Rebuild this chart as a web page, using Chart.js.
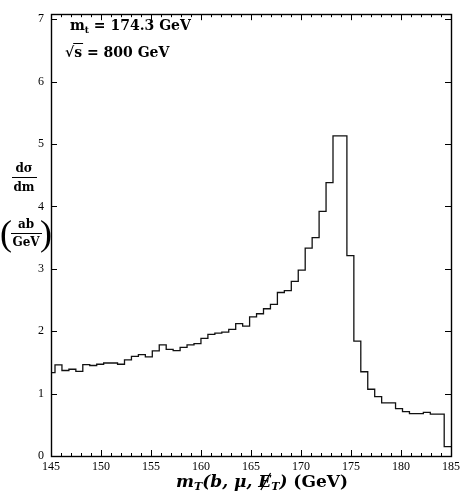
<!DOCTYPE html>
<html>
<head>
<meta charset="utf-8">
<script src="https://cdn.jsdelivr.net/npm/chart.js@4.4.1/dist/chart.umd.min.js"></script>
<style>
    html, body { margin: 0; padding: 0; background: #fff; }
    #wrap { width: 460px; height: 496px; position: relative; }
</style>
</head>
<body>
<div id="wrap"><canvas id="massChart"></canvas></div>
<script>
// Histogram binning (GeV): a short first bin from 145, then equal-width bins
const xMin = 145;
const xMax = 185;
const firstFullEdge = 145.4;
const binWidth = 0.695;

// d sigma / dm in ab/GeV, one value per bin, left to right
const binValues = [
    1.335, 1.46, 1.37, 1.39, 1.355, 1.465, 1.45, 1.47, 1.49, 1.49,
    1.47, 1.54, 1.595, 1.625, 1.59, 1.685, 1.78, 1.71, 1.69, 1.74,
    1.78, 1.80, 1.885, 1.95, 1.97, 1.985, 2.03, 2.12, 2.08, 2.23,
    2.28, 2.36, 2.43, 2.62, 2.65, 2.80, 2.98, 3.33, 3.50, 3.92,
    4.38, 5.13, 5.13, 3.21, 1.84, 1.35, 1.07, 0.95, 0.85, 0.85,
    0.76, 0.71, 0.68, 0.68, 0.70, 0.67, 0.67, 0.15
];

const xTickLabels = [145, 150, 155, 160, 165, 170, 175, 180, 185];
const yTickLabels = [0, 1, 2, 3, 4, 5, 6, 7];
const yMax = 7.08;

// left edge of each bin, then the closing point at the right of the axis
const binEdges = binValues.map((v, i) => i === 0 ? xMin : firstFullEdge + binWidth * (i - 1));
const stepPoints = binValues.map((v, i) => ({ x: binEdges[i], y: v }));
stepPoints.push({ x: xMax, y: binValues[binValues.length - 1] });

const serif = '"Liberation Serif", "DejaVu Serif", serif';
const wide = '"DejaVu Serif", serif';

// Frame with inward ticks on all four sides
const framePlugin = {
    id: 'frame',
    afterDatasetsDraw(chart) {
        const { ctx, chartArea: a, scales } = chart;
        ctx.save();
        ctx.strokeStyle = '#000';
        ctx.lineWidth = 1;
        ctx.beginPath();
        for (let v = xMin; v <= xMax; v++) {
            const px = Math.round(scales.x.getPixelForValue(v)) + 0.5;
            const len = v % 5 === 0 ? 6 : 3;
            ctx.moveTo(px, a.bottom); ctx.lineTo(px, a.bottom - len);
            ctx.moveTo(px, a.top); ctx.lineTo(px, a.top + len);
        }
        yTickLabels.forEach(v => {
            const py = Math.round(scales.y.getPixelForValue(v)) + 0.5;
            ctx.moveTo(a.left, py); ctx.lineTo(a.left + 6, py);
            ctx.moveTo(a.right, py); ctx.lineTo(a.right - 6, py);
        });
        ctx.stroke();
        ctx.lineWidth = 1.4;
        ctx.strokeRect(Math.round(a.left) + 0.5, Math.round(a.top) + 0.5,
            Math.round(a.right - a.left), Math.round(a.bottom - a.top));
        ctx.restore();
    }
};

// Annotations and axis titles
const labelsPlugin = {
    id: 'texts',
    afterDraw(chart) {
        const ctx = chart.ctx;
        ctx.save();
        ctx.fillStyle = '#000';
        ctx.strokeStyle = '#000';
        ctx.textBaseline = 'alphabetic';

        // m_t = 174.3 GeV
        ctx.textAlign = 'left';
        ctx.font = 'bold 14px ' + wide;
        let x = 70;
        ctx.fillText('m', x, 30);
        x += ctx.measureText('m').width;
        ctx.font = 'bold 9px ' + wide;
        ctx.fillText('t', x, 33);
        x += ctx.measureText('t').width;
        ctx.font = 'bold 14px ' + wide;
        ctx.fillText(' = 174.3 GeV', x, 30);

        // sqrt(s) = 800 GeV
        ctx.font = 'bold 14px ' + wide;
        ctx.fillText('\u221A', 65, 57);
        const sx = 65 + ctx.measureText('\u221A').width;
        ctx.fillText('s = 800 GeV', sx, 57);
        ctx.lineWidth = 1;
        ctx.beginPath();
        ctx.moveTo(sx - 1, 43.5);
        ctx.lineTo(sx + ctx.measureText('s').width + 1, 43.5);
        ctx.stroke();

        // y title: d sigma / dm (ab/GeV)
        ctx.textAlign = 'center';
        ctx.font = 'bold 12px ' + wide;
        ctx.fillText('d\u03C3', 24, 172);
        ctx.fillText('dm', 24, 191);
        ctx.beginPath();
        ctx.moveTo(12, 177.5); ctx.lineTo(37, 177.5);
        ctx.stroke();
        ctx.fillText('ab', 26, 228);
        ctx.fillText('GeV', 26, 246);
        ctx.beginPath();
        ctx.moveTo(11, 233.5); ctx.lineTo(42, 233.5);
        ctx.stroke();
        ctx.font = '36px ' + serif;
        ctx.fillText('(', 6, 245);
        ctx.fillText(')', 46, 245);

        // x title: m_T(b, mu, Et-slash) (GeV), centred under the plot
        const base = 487;
        const bi = 'italic bold 17px ' + wide;
        const bs = 'italic bold 11px ' + wide;
        const parts = [
            ['m', bi, 0], ['T', bs, 3], ['(b, \u03BC, ', bi, 0], ['E', bi, 0],
            ['T', bs, 3], [')', bi, 0], [' (GeV)', 'bold 17px ' + wide, 0]
        ];
        let total = 0;
        parts.forEach(p => { ctx.font = p[1]; total += ctx.measureText(p[0]).width; });
        ctx.textAlign = 'left';
        x = 262 - total / 2;
        parts.forEach(p => {
            ctx.font = p[1];
            ctx.fillText(p[0], x, base + p[2]);
            const w = ctx.measureText(p[0]).width;
            if (p[0] === 'E') {
                ctx.beginPath();
                ctx.lineWidth = 1.3;
                ctx.moveTo(x + w * 0.2, base + 3);
                ctx.lineTo(x + w * 0.95, base - 14);
                ctx.stroke();
            }
            x += w;
        });
        ctx.restore();
    }
};

new Chart(document.getElementById('massChart'), {
    type: 'line',
    data: {
        datasets: [{
            data: stepPoints,
            stepped: 'before',
            borderColor: '#111',
            borderWidth: 1.3,
            pointRadius: 0,
            fill: false
        }]
    },
    options: {
        responsive: true,
        maintainAspectRatio: false,
        animation: false,
        devicePixelRatio: 1,
        layout: { padding: { top: 14, right: 9, left: 0, bottom: 0 } },
        plugins: {
            legend: { display: false },
            tooltip: { enabled: false }
        },
        scales: {
            x: {
                type: 'linear',
                min: xMin,
                max: xMax,
                afterFit: (scale) => {
                    scale.height = 40;
                    scale.paddingLeft = 0;
                    scale.paddingRight = 0;
                },
                afterBuildTicks: (scale) => { scale.ticks = xTickLabels.map(v => ({ value: v })); },
                grid: { display: false, drawTicks: false },
                border: { display: false },
                ticks: {
                    padding: 4,
                    color: '#000',
                    font: { family: serif, size: 12 },
                    maxRotation: 0
                }
            },
            y: {
                type: 'linear',
                min: 0,
                max: yMax,
                afterFit: (scale) => { scale.width = 51; },
                afterBuildTicks: (scale) => { scale.ticks = yTickLabels.map(v => ({ value: v })); },
                grid: { display: false, drawTicks: false },
                border: { display: false },
                ticks: {
                    padding: 7,
                    color: '#000',
                    font: { family: serif, size: 12 }
                }
            }
        }
    },
    plugins: [framePlugin, labelsPlugin]
});
</script>
</body>
</html>
